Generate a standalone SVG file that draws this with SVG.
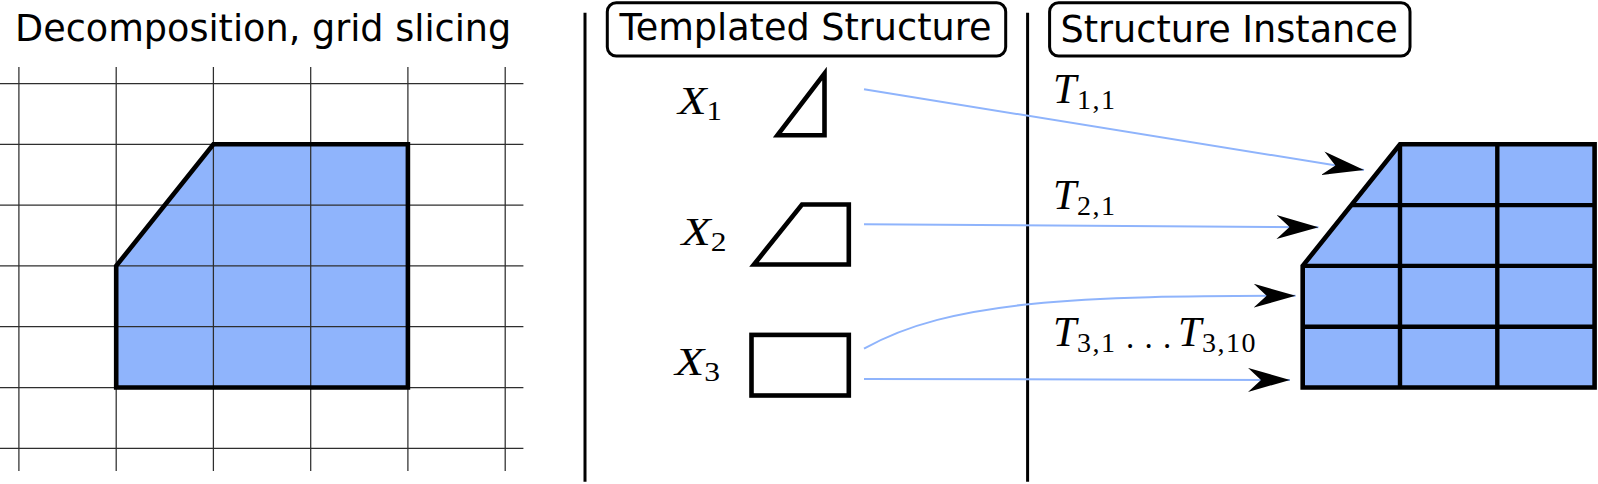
<svg xmlns="http://www.w3.org/2000/svg" width="1598" height="484" viewBox="0 0 1598 484">
<style>
.head{font-family:"DejaVu Sans","Liberation Sans",sans-serif;font-size:36.6px;fill:#000}
.math{font-family:"Liberation Serif","DejaVu Serif",serif;font-size:41px;font-style:italic;fill:#000}
.tm{font-size:42px}
.sub{font-style:normal;font-size:27px}
.tsub{font-style:normal;font-size:28px;letter-spacing:1.5px}
.grid{stroke:#2e2e2e;stroke-width:1.25;fill:none}
.outline{fill:none;stroke:#000;stroke-width:4.6;stroke-linejoin:miter}
.inner{fill:none;stroke:#000;stroke-width:4.4}
.fillb{fill:#8fb4fc;stroke:none}
.shape{fill:#fff;stroke:#000;stroke-width:4.6;stroke-linejoin:miter}
.sep{stroke:#000;stroke-width:3}
.box{fill:#fff;stroke:#000;stroke-width:3}
.conn{fill:none;stroke:#8fb4fc;stroke-width:2}
</style>
<defs>
<marker id="arr" markerUnits="userSpaceOnUse" markerWidth="42" markerHeight="24" viewBox="0 0 42 24" refX="42" refY="12" orient="auto">
<path d="M42,12 L0,0 L13,12 L0,24 Z" fill="#000"/>
</marker>
</defs>
<rect width="1598" height="484" fill="#fff"/>

<g id="decomposition">
<text class="head" x="15" y="40.5">Decomposition, grid slicing</text>
<polygon class="fillb" points="116.2,265.9 213.4,144.3 407.9,144.3 407.9,387.5 116.2,387.5"/>
<g class="grid">
<line x1="18.9" y1="67" x2="18.9" y2="471"/>
<line x1="116.2" y1="67" x2="116.2" y2="471"/>
<line x1="213.4" y1="67" x2="213.4" y2="471"/>
<line x1="310.7" y1="67" x2="310.7" y2="471"/>
<line x1="407.9" y1="67" x2="407.9" y2="471"/>
<line x1="505.2" y1="67" x2="505.2" y2="471"/>
<line x1="0" y1="83.5" x2="523.4" y2="83.5"/>
<line x1="0" y1="144.3" x2="523.4" y2="144.3"/>
<line x1="0" y1="205.1" x2="523.4" y2="205.1"/>
<line x1="0" y1="265.9" x2="523.4" y2="265.9"/>
<line x1="0" y1="326.7" x2="523.4" y2="326.7"/>
<line x1="0" y1="387.5" x2="523.4" y2="387.5"/>
<line x1="0" y1="448.3" x2="523.4" y2="448.3"/>
</g>
<polygon class="outline" points="116.2,265.9 213.4,144.3 407.9,144.3 407.9,387.5 116.2,387.5"/>
</g>

<g id="separators">
<line class="sep" x1="585" y1="12.7" x2="585" y2="481.7"/>
<line class="sep" x1="1027.6" y1="12.7" x2="1027.6" y2="481.7"/>
</g>

<g id="templated-header">
<rect class="box" x="607.3" y="2.7" width="398.4" height="53.3" rx="9"/>
<text class="head" x="619.5" y="39.5">Templated Structure</text>
</g>

<g id="instance-header">
<rect class="box" x="1049.6" y="2.7" width="360.4" height="53.3" rx="9"/>
<text class="head" x="1060.5" y="41.5">Structure Instance</text>
</g>

<g id="x1">
<text class="math" x="678" y="114.3" textLength="44" lengthAdjust="spacingAndGlyphs">X<tspan class="sub" dy="5.5">1</tspan></text>
<polygon class="shape" points="777.5,135.2 824.5,73.5 824.5,135.2"/>
</g>

<g id="x2">
<text class="math" x="681.5" y="245" textLength="45" lengthAdjust="spacingAndGlyphs">X<tspan class="sub" dy="5.5">2</tspan></text>
<polygon class="shape" points="754,264.5 802,204.5 848.8,204.5 848.8,264.5"/>
</g>

<g id="x3">
<text class="math" x="675" y="375" textLength="45" lengthAdjust="spacingAndGlyphs">X<tspan class="sub" dy="5.5">3</tspan></text>
<rect class="shape" x="751.5" y="334.9" width="97.3" height="60.6"/>
</g>

<g id="instance">
<polygon class="fillb" points="1302.7,265.9 1400,144.3 1594.6,144.3 1594.6,387.5 1302.7,387.5"/>
<g class="inner">
<line x1="1400" y1="144.3" x2="1400" y2="387.5"/>
<line x1="1497.3" y1="144.3" x2="1497.3" y2="387.5"/>
<line x1="1351.3" y1="205.1" x2="1594.6" y2="205.1"/>
<line x1="1302.7" y1="265.9" x2="1594.6" y2="265.9"/>
<line x1="1302.7" y1="326.7" x2="1594.6" y2="326.7"/>
</g>
<polygon class="outline" points="1302.7,265.9 1400,144.3 1594.6,144.3 1594.6,387.5 1302.7,387.5"/>
</g>

<g id="connectors">
<path class="conn" d="M864,89.3 L1364,170" marker-end="url(#arr)"/>
<path class="conn" d="M864,224.3 L1318.5,227.3" marker-end="url(#arr)"/>
<path class="conn" d="M864,348.7 C950,300 1080,295.7 1295.6,295.7" marker-end="url(#arr)"/>
<path class="conn" d="M864,379 L1290,380" marker-end="url(#arr)"/>
<text class="math tm" x="1053" y="103">T<tspan class="tsub" x="1077" y="108.8">1,1</tspan></text>
<text class="math tm" x="1053" y="209">T<tspan class="tsub" x="1077" y="214.8">2,1</tspan></text>
<text class="math tm" x="1053" y="345.5">T<tspan class="tsub" x="1077" y="352">3,1</tspan><tspan x="1126 1144.5 1163" y="348" style="font-style:normal;font-size:33px">...</tspan><tspan x="1178" y="345.5">T</tspan><tspan class="tsub" x="1202" y="352">3,10</tspan></text>
</g>
</svg>
